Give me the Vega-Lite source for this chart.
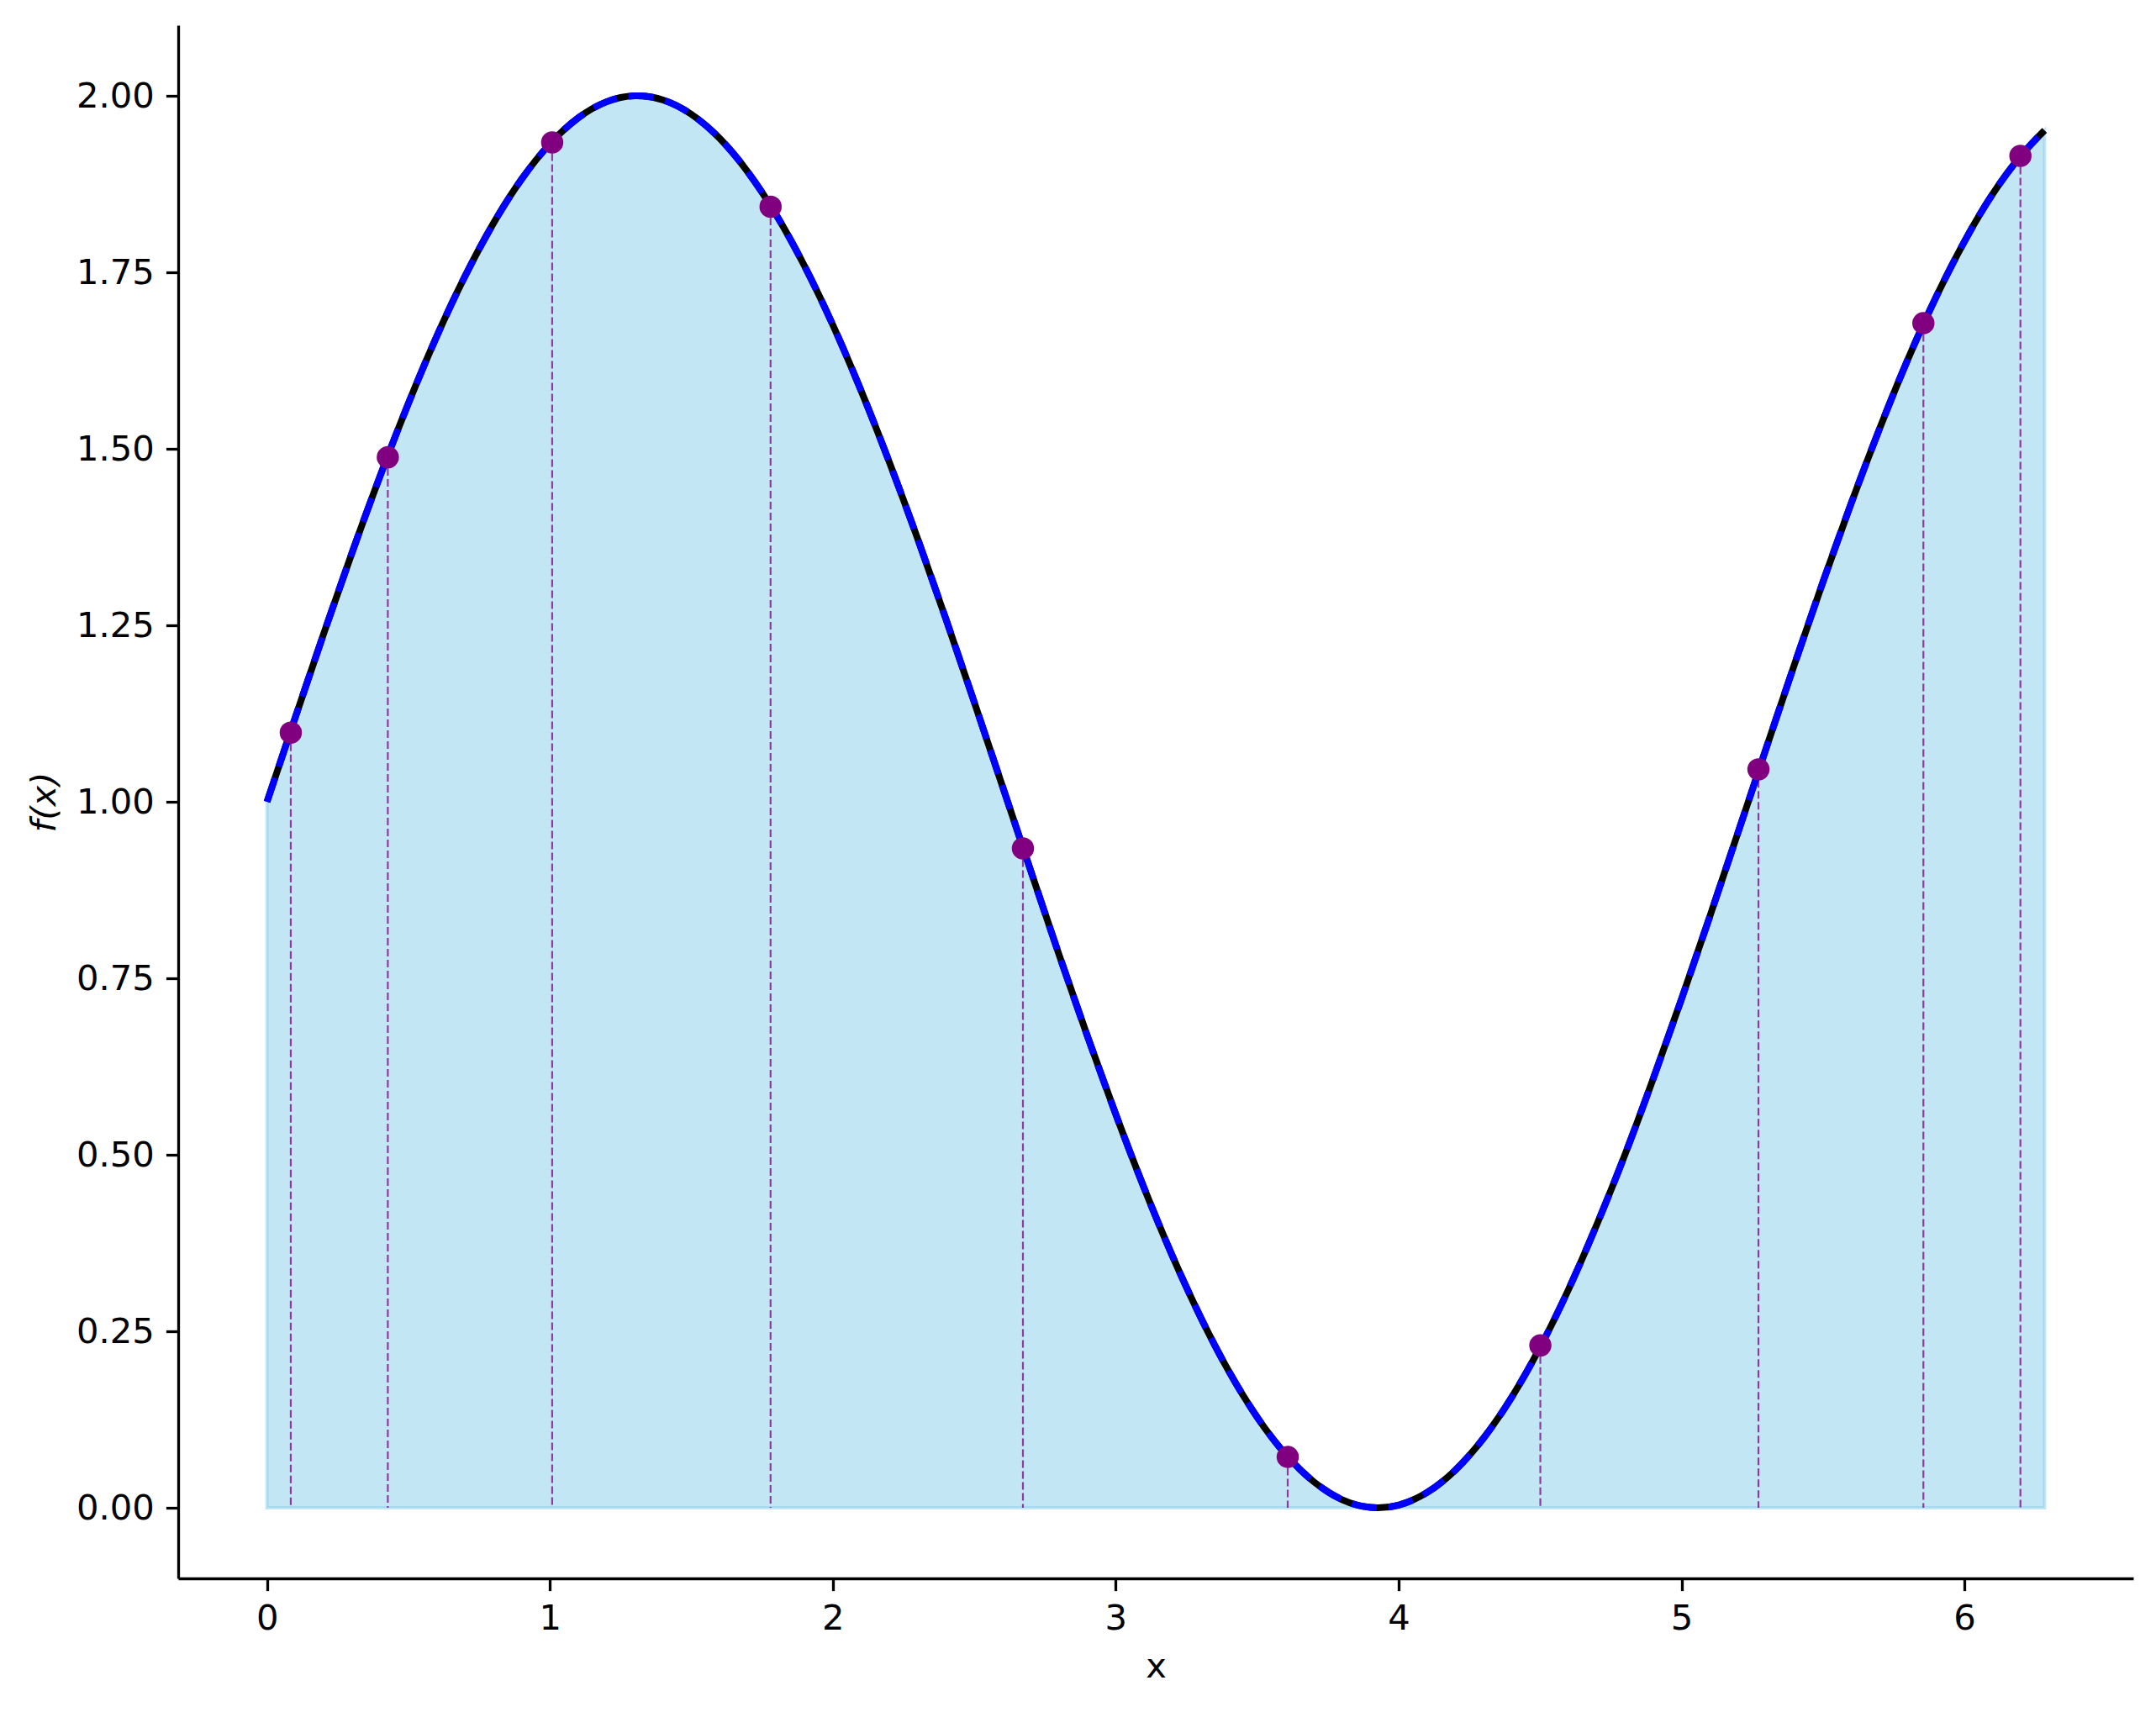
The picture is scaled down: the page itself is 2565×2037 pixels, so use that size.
{
  "$schema": "https://vega.github.io/schema/vega-lite/v6.json",
  "width": 2326,
  "height": 1848,
  "autosize": {"type": "none"},
  "padding": {"left": 212, "top": 30, "right": 27, "bottom": 159},
  "background": "white",
  "config": {
    "view": {"stroke": null},
    "axis": {
      "grid": false,
      "domainColor": "black",
      "domainWidth": 3.3,
      "tickColor": "black",
      "tickWidth": 3.3,
      "tickSize": 14.6,
      "labelFont": "DejaVu Sans",
      "labelFontSize": 41.7,
      "labelColor": "black",
      "titleFont": "DejaVu Sans",
      "titleFontSize": 41.7,
      "titleFontWeight": "normal",
      "titleColor": "black"
    }
  },
  "datasets": {
    "curve": [
      {"x": 0.0, "y": 1.0000}, {"x": 0.1, "y": 1.1197}, {"x": 0.2, "y": 1.2377}, {"x": 0.3, "y": 1.3523},
      {"x": 0.4, "y": 1.4618}, {"x": 0.5, "y": 1.5646}, {"x": 0.6, "y": 1.6594}, {"x": 0.7, "y": 1.7446},
      {"x": 0.8, "y": 1.8192}, {"x": 0.9, "y": 1.8820}, {"x": 1.0, "y": 1.9320}, {"x": 1.1, "y": 1.9687},
      {"x": 1.2, "y": 1.9915}, {"x": 1.3, "y": 1.9999}, {"x": 1.4, "y": 1.9940}, {"x": 1.5, "y": 1.9738},
      {"x": 1.6, "y": 1.9397}, {"x": 1.7, "y": 1.8919}, {"x": 1.8, "y": 1.8314}, {"x": 1.9, "y": 1.7589},
      {"x": 2.0, "y": 1.6755}, {"x": 2.1, "y": 1.5823}, {"x": 2.2, "y": 1.4808}, {"x": 2.3, "y": 1.3724},
      {"x": 2.4, "y": 1.2586}, {"x": 2.5, "y": 1.1411}, {"x": 2.6, "y": 1.0216}, {"x": 2.7, "y": 0.9018},
      {"x": 2.8, "y": 0.7831}, {"x": 2.9, "y": 0.6680}, {"x": 3.0, "y": 0.5575}, {"x": 3.1, "y": 0.4533},
      {"x": 3.2, "y": 0.3570}, {"x": 3.3, "y": 0.2700}, {"x": 3.4, "y": 0.1933}, {"x": 3.5, "y": 0.1284},
      {"x": 3.6, "y": 0.0760}, {"x": 3.7, "y": 0.0369}, {"x": 3.8, "y": 0.0115}, {"x": 3.9, "y": 0.0005},
      {"x": 4.0, "y": 0.0038}, {"x": 4.1, "y": 0.0215}, {"x": 4.2, "y": 0.0532}, {"x": 4.3, "y": 0.0985},
      {"x": 4.4, "y": 0.1568}, {"x": 4.5, "y": 0.2272}, {"x": 4.6, "y": 0.3088}, {"x": 4.7, "y": 0.4006},
      {"x": 4.8, "y": 0.5001}, {"x": 4.9, "y": 0.6079}, {"x": 5.0, "y": 0.7206}, {"x": 5.1, "y": 0.8375},
      {"x": 5.2, "y": 0.9568}, {"x": 5.3, "y": 1.0767}, {"x": 5.4, "y": 1.1955}, {"x": 5.5, "y": 1.3115},
      {"x": 5.6, "y": 1.4231}, {"x": 5.7, "y": 1.5284}, {"x": 5.8, "y": 1.6267}, {"x": 5.9, "y": 1.7152},
      {"x": 6.0, "y": 1.7937}, {"x": 6.1, "y": 1.8611}, {"x": 6.2, "y": 1.9153}, {"x": 6.2832, "y": 1.9511}
    ],
    "samples": [
      {"x": 0.084, "y": 1.098}, {"x": 0.427, "y": 1.488}, {"x": 1.008, "y": 1.934}, {"x": 1.780, "y": 1.843},
      {"x": 2.672, "y": 0.934}, {"x": 3.608, "y": 0.072}, {"x": 4.501, "y": 0.230}, {"x": 5.272, "y": 1.046},
      {"x": 5.855, "y": 1.678}, {"x": 6.198, "y": 1.915}
    ]
  },
  "encoding": {
    "x": {
      "field": "x", "type": "quantitative",
      "scale": {"domain": [-0.314, 6.597], "nice": false, "zero": false},
      "axis": {"values": [0, 1, 2, 3, 4, 5, 6], "format": "d", "title": "x", "labelPadding": 13, "titlePadding": 15}
    },
    "y": {
      "field": "y", "type": "quantitative",
      "scale": {"domain": [-0.1, 2.1], "nice": false, "zero": false},
      "axis": {"values": [0, 0.25, 0.5, 0.75, 1, 1.25, 1.5, 1.75, 2], "format": ".2f", "title": "f(x)", "titleFontStyle": "italic", "labelPadding": 14, "titlePadding": 16}
    }
  },
  "layer": [
    {
      "data": {"name": "curve"},
      "mark": {"type": "area", "interpolate": "natural", "fill": "#87ceeb", "fillOpacity": 0.5, "stroke": "#87ceeb", "strokeOpacity": 0.5, "strokeWidth": 4},
      "encoding": {"y2": {"datum": 0}}
    },
    {
      "data": {"name": "samples"},
      "mark": {"type": "rule", "color": "purple", "opacity": 0.75, "strokeWidth": 2.2, "strokeDash": [9, 4]},
      "encoding": {"y2": {"datum": 0}}
    },
    {
      "data": {"name": "curve"},
      "mark": {"type": "line", "interpolate": "natural", "color": "black", "strokeWidth": 8},
      "encoding": {}
    },
    {
      "data": {"name": "curve"},
      "mark": {"type": "line", "interpolate": "natural", "color": "blue", "strokeWidth": 8, "strokeDash": [30, 14]},
      "encoding": {}
    },
    {
      "data": {"name": "samples"},
      "mark": {"type": "circle", "color": "purple", "opacity": 1, "size": 700},
      "encoding": {}
    }
  ]
}
